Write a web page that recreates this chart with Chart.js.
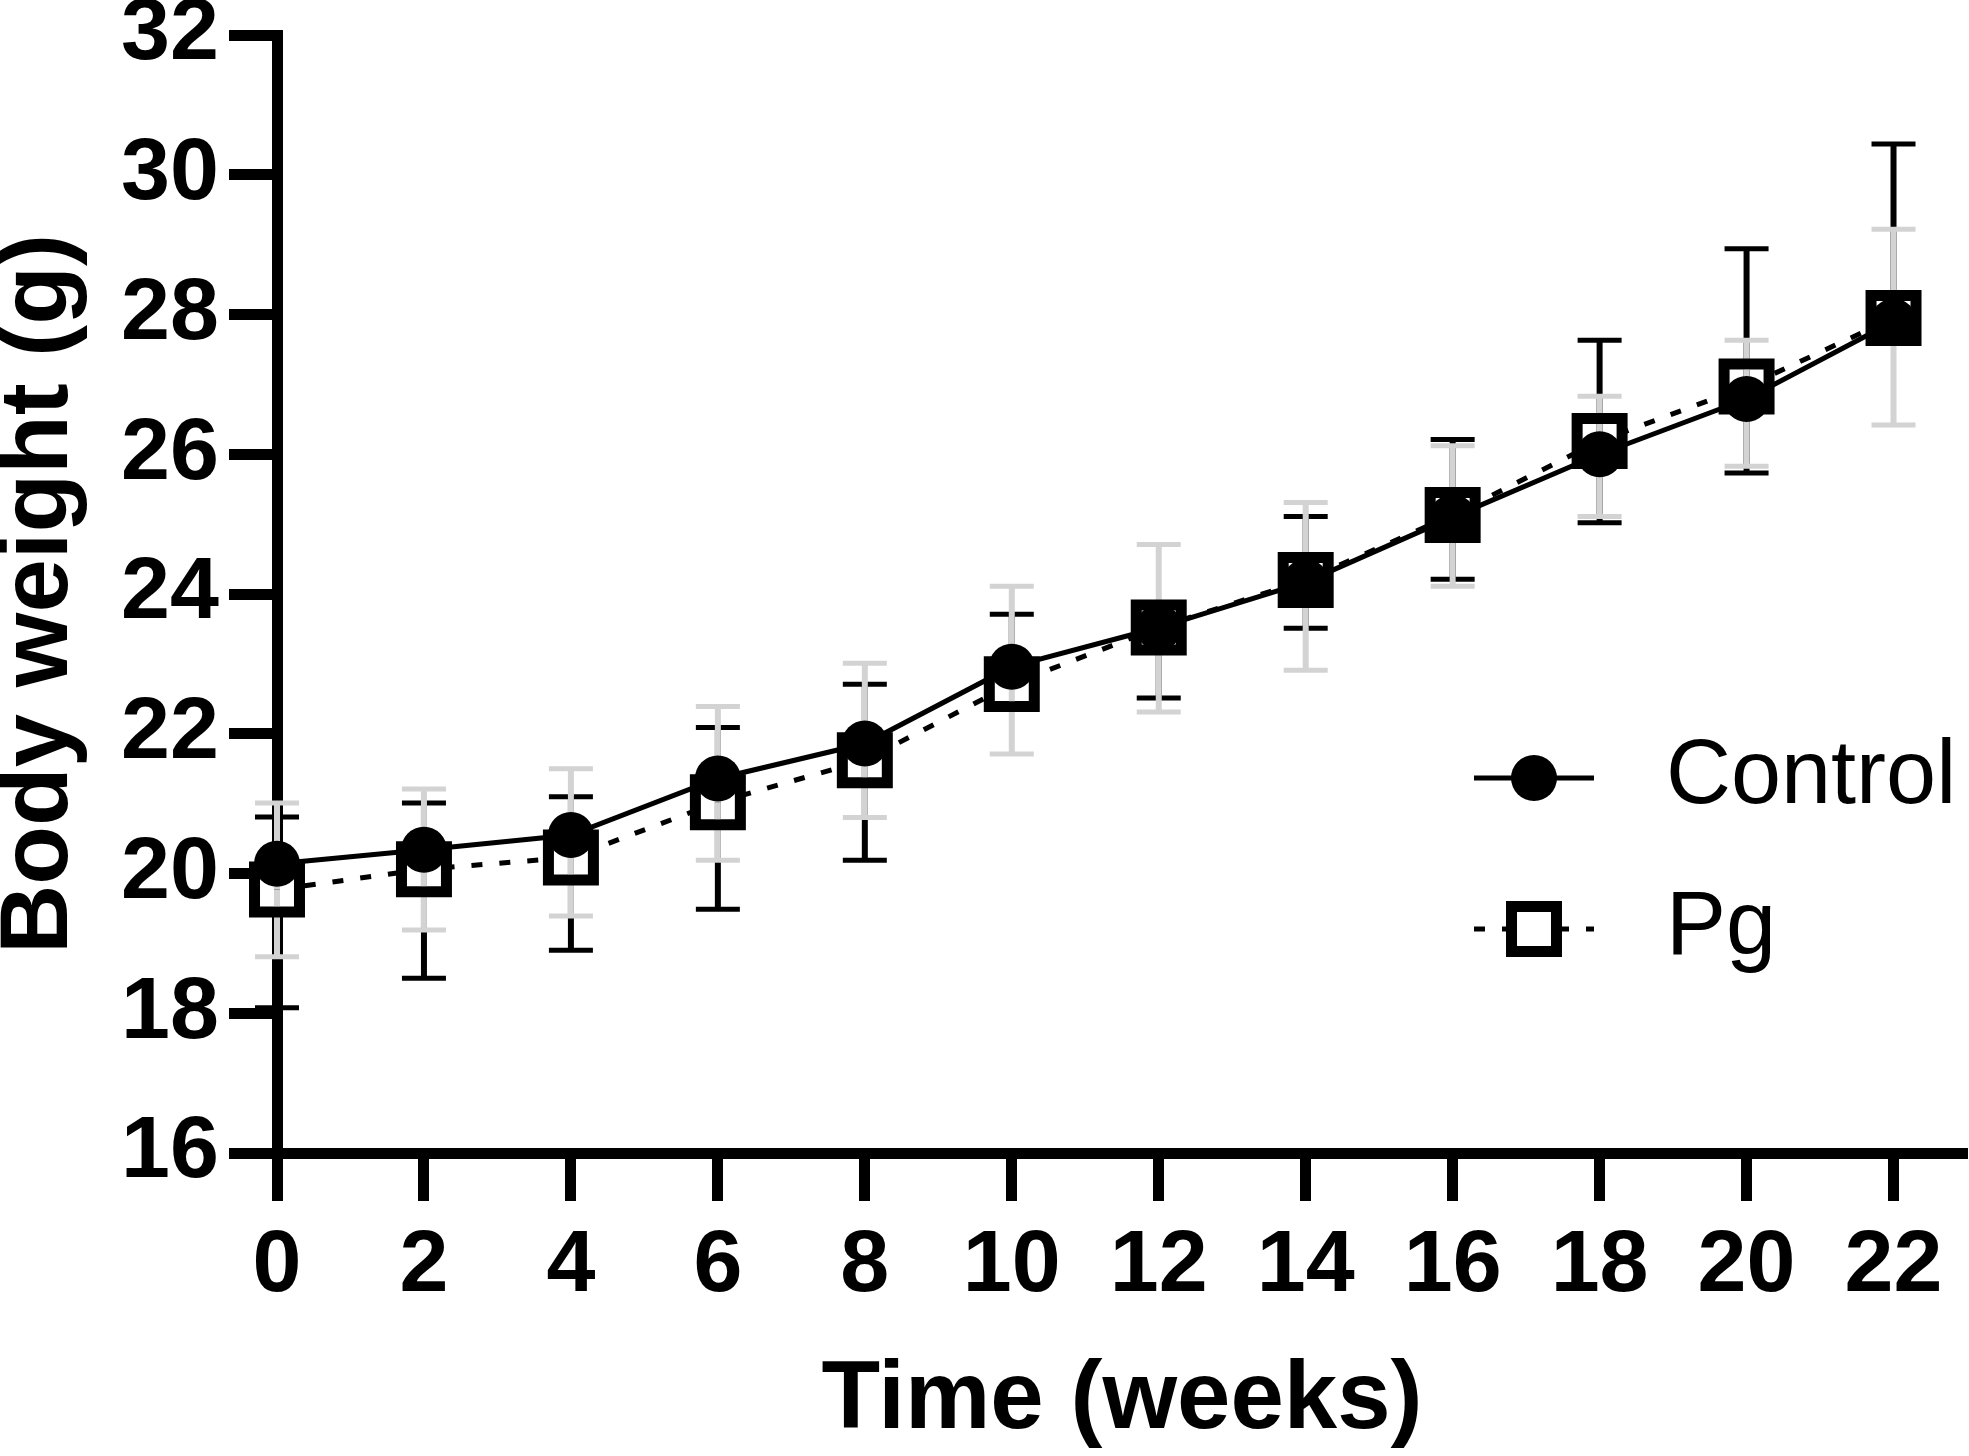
<!DOCTYPE html>
<html lang="en">
<head>
    <meta charset="UTF-8">
    <title>Body weight</title>
    <script src="https://cdn.jsdelivr.net/npm/chart.js@4.4.3/dist/chart.umd.min.js"></script>
    <style>
        body { margin: 0; background: #fff; }
    </style>
</head>
<body>
    <canvas id="chart" width="1969" height="1456"></canvas>
    <script>
        // data
        const weeks = [0, 2, 4, 6, 8, 10, 12, 14, 16, 18, 20, 22];
        const controlMean = [20.14, 20.34, 20.55, 21.36, 21.86, 22.96, 23.52, 24.17, 25.10, 26.00, 26.79, 27.90];
        const controlHigh = [20.81, 21.01, 21.10, 22.09, 22.71, 23.71, null, 25.11, 26.21, 27.63, 28.94, 30.44];
        const controlLow  = [18.08, 18.50, 18.90, 19.49, 20.19, null, 22.51, 23.51, 24.21, 25.02, 25.73, null];
        const pgMean = [19.77, 20.06, 20.23, 21.02, 21.62, 22.71, 23.52, 24.20, 25.13, 26.19, 26.97, 27.95];
        const pgHigh = [21.01, 21.21, 21.50, 22.39, 23.01, 24.11, 24.71, 25.31, 26.12, 26.83, 27.63, 29.22];
        const pgLow  = [18.81, 19.19, 19.39, 20.19, 20.80, 21.71, 22.31, 22.91, 24.11, 25.11, 25.83, 26.42];
        const xTicks = [0, 2, 4, 6, 8, 10, 12, 14, 16, 18, 20, 22];
        const yTicks = [16, 18, 20, 22, 24, 26, 28, 30, 32];

        const FONT = '"Liberation Sans", Arial, sans-serif';
        const GRAY = '#d3d3d3';

        function drawBars(ctx, chart, hi, lo, mean, color, i) {
            const x = chart.scales.x, y = chart.scales.y;
            const px = x.getPixelForValue(weeks[i]);
            const pm = y.getPixelForValue(mean[i]);
            ctx.strokeStyle = color;
            [hi[i], lo[i]].forEach(v => {
                if (v == null) return;
                const pv = y.getPixelForValue(v);
                ctx.lineWidth = 6;
                ctx.beginPath(); ctx.moveTo(px, pm); ctx.lineTo(px, pv); ctx.stroke();
                ctx.lineWidth = 5;
                ctx.beginPath(); ctx.moveTo(px - 22, pv); ctx.lineTo(px + 22, pv); ctx.stroke();
            });
        }

        // error bars: under everything, then again inside the open squares
        const errorBarPlugin = {
            id: 'errorBars',
            beforeDatasetsDraw(chart) {
                const ctx = chart.ctx;
                ctx.save();
                weeks.forEach((w, i) => drawBars(ctx, chart, controlHigh, controlLow, controlMean, '#000', i));
                weeks.forEach((w, i) => drawBars(ctx, chart, pgHigh, pgLow, pgMean, GRAY, i));
                ctx.restore();
            },
            afterDatasetDraw(chart, args) {
                if (args.index !== 1) return;
                const ctx = chart.ctx;
                const half = 17;
                weeks.forEach((w, i) => {
                    const px = chart.scales.x.getPixelForValue(w);
                    const py = chart.scales.y.getPixelForValue(pgMean[i]);
                    ctx.save();
                    ctx.beginPath();
                    ctx.rect(px - half, py - half, half * 2, half * 2);
                    ctx.clip();
                    drawBars(ctx, chart, controlHigh, controlLow, controlMean, '#000', i);
                    drawBars(ctx, chart, pgHigh, pgLow, pgMean, GRAY, i);
                    ctx.restore();
                });
            }
        };

        // legend at the right, line + marker + label
        const sideLegend = {
            id: 'sideLegend',
            afterDraw(chart) {
                const ctx = chart.ctx;
                chart.data.datasets.forEach((ds, i) => {
                    const cy = 778 + i * 151;
                    const cx = 1534;
                    ctx.save();
                    ctx.strokeStyle = ds.borderColor;
                    ctx.lineWidth = ds.borderWidth;
                    ctx.setLineDash(ds.borderDash || []);
                    ctx.beginPath(); ctx.moveTo(1474, cy); ctx.lineTo(1594, cy); ctx.stroke();
                    ctx.setLineDash([]);
                    ctx.fillStyle = ds.pointBackgroundColor;
                    ctx.strokeStyle = ds.pointBorderColor;
                    ctx.lineWidth = ds.pointBorderWidth;
                    ctx.beginPath();
                    if (ds.pointStyle === 'circle') {
                        ctx.arc(cx, cy, ds.pointRadius, 0, Math.PI * 2);
                        ctx.fill();
                    } else {
                        const s = Math.SQRT1_2 * ds.pointRadius;
                        ctx.rect(cx - s, cy - s, 2 * s, 2 * s);
                        ctx.fill();
                        ctx.stroke();
                    }
                    ctx.fillStyle = '#000';
                    ctx.font = '90px ' + FONT;
                    ctx.textBaseline = 'middle';
                    ctx.textAlign = 'left';
                    ctx.fillText(ds.label, 1666, cy);
                    ctx.restore();
                });
            }
        };

        const axisGrid = {
            display: true,
            drawOnChartArea: false,
            drawTicks: true,
            tickLength: 48,
            tickWidth: 11,
            tickColor: '#000'
        };
        const axisBorder = { display: true, color: '#000', width: 11 };
        const tickFont = { family: FONT, size: 88, weight: 'bold' };
        const titleFont = { family: FONT, size: 96, weight: 'bold', lineHeight: 0.8 };

        new Chart(document.getElementById('chart'), {
            type: 'line',
            data: {
                datasets: [
                    {
                        label: 'Control',
                        data: weeks.map((w, i) => ({ x: w, y: controlMean[i] })),
                        borderColor: '#000',
                        borderWidth: 5,
                        pointStyle: 'circle',
                        pointRadius: 23,
                        pointBackgroundColor: '#000',
                        pointBorderColor: '#000',
                        pointBorderWidth: 0,
                        tension: 0,
                        clip: false
                    },
                    {
                        label: 'Pg',
                        data: weeks.map((w, i) => ({ x: w, y: pgMean[i] })),
                        borderColor: '#000',
                        borderWidth: 5,
                        borderDash: [11, 17],
                        pointStyle: 'rect',
                        pointRadius: 31.8,
                        pointBackgroundColor: '#fff',
                        pointBorderColor: '#000',
                        pointBorderWidth: 11,
                        tension: 0,
                        clip: false
                    }
                ]
            },
            plugins: [errorBarPlugin, sideLegend],
            options: {
                responsive: false,
                animation: false,
                devicePixelRatio: 1,
                layout: { autoPadding: false, padding: { top: 35, right: 2, bottom: 0, left: 0 } },
                plugins: {
                    legend: { display: false },
                    tooltip: { enabled: false }
                },
                scales: {
                    x: {
                        type: 'linear',
                        min: 0,
                        max: 23,
                        afterBuildTicks: s => { s.ticks = xTicks.map(v => ({ value: v })); },
                        afterFit: s => { s.height = 303; s.paddingLeft = 0; s.paddingRight = 0; },
                        ticks: { font: tickFont, color: '#000', padding: 13, maxRotation: 0, autoSkip: false },
                        grid: axisGrid,
                        border: axisBorder,
                        title: {
                            display: true,
                            text: 'Time (weeks)',
                            color: '#000',
                            font: titleFont,
                            padding: { top: 0, bottom: 16 }
                        }
                    },
                    y: {
                        min: 16,
                        max: 32,
                        afterBuildTicks: s => { s.ticks = yTicks.map(v => ({ value: v })); },
                        afterFit: s => { s.width = 277; s.paddingTop = 0; s.paddingBottom = 0; },
                        ticks: { font: tickFont, color: '#000', padding: 10 },
                        grid: axisGrid,
                        border: axisBorder,
                        title: {
                            display: true,
                            text: 'Body weight (g)',
                            color: '#000',
                            font: titleFont,
                            padding: { top: 2, bottom: 0 }
                        }
                    }
                }
            }
        });
    </script>
</body>
</html>
